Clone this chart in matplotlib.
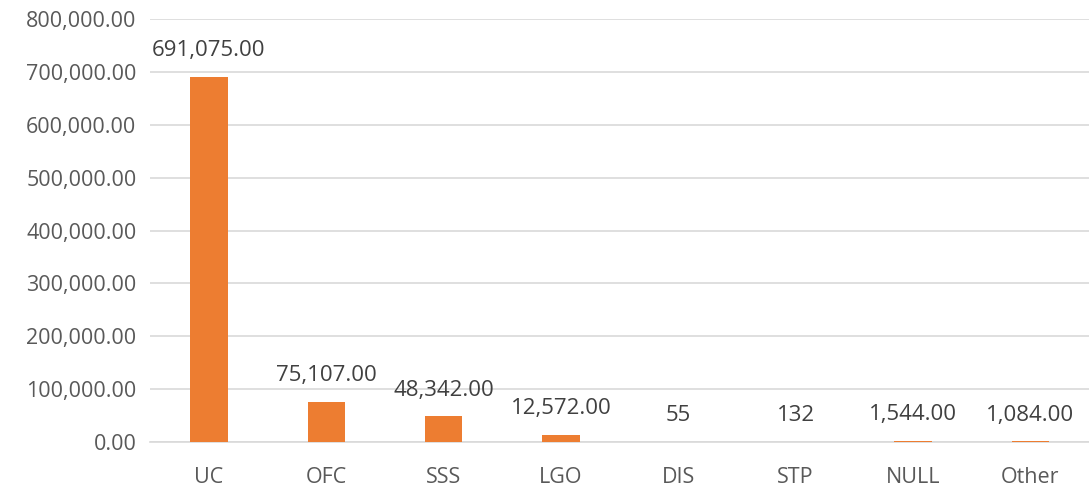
import matplotlib
matplotlib.use('Agg')
import matplotlib.pyplot as plt
from matplotlib.ticker import FuncFormatter

categories = ['UC', 'OFC', 'SSS', 'LGO', 'DIS', 'STP', 'NULL', 'Other']
counts = [691075, 75107, 48342, 12572, 55, 132, 1544, 1084]
labels = ['691,075.00', '75,107.00', '48,342.00', '12,572.00', '55', '132', '1,544.00', '1,084.00']

plt.rcParams['font.family'] = ['Open Sans', 'DejaVu Sans']
text_col = '#595959'

fig = plt.figure(figsize=(10.89, 4.9), dpi=100)
ax = fig.add_axes([0.138, 0.098, 0.862, 0.863])

x = range(len(categories))
bars = ax.bar(x, counts, width=0.32, color='#ED7D31', zorder=3)

# 数据标签
for b, lab in zip(bars, labels):
    ax.annotate(lab, (b.get_x() + b.get_width() / 2, b.get_height()),
                xytext=(0, 19), textcoords='offset points',
                ha='center', va='center', fontsize=16, color='#404040')

ax.set_xlim(-0.5, len(categories) - 0.5)
ax.set_ylim(0, 800000)
ax.set_yticks(range(0, 800001, 100000))
ax.yaxis.set_major_formatter(FuncFormatter(lambda v, p: f'{v:,.2f}'))
ax.set_xticks(list(x))
ax.set_xticklabels(categories)
ax.tick_params(axis='both', length=0, labelsize=15.5, colors=text_col)
ax.tick_params(axis='x', pad=18)
ax.tick_params(axis='y', pad=10)

ax.grid(axis='y', color='#D9D9D9', linewidth=1.2, zorder=0)
for s in ['top', 'right', 'left']:
    ax.spines[s].set_visible(False)
ax.spines['bottom'].set_color('#D9D9D9')
ax.spines['bottom'].set_linewidth(1.2)

plt.savefig('out.png', dpi=100)
